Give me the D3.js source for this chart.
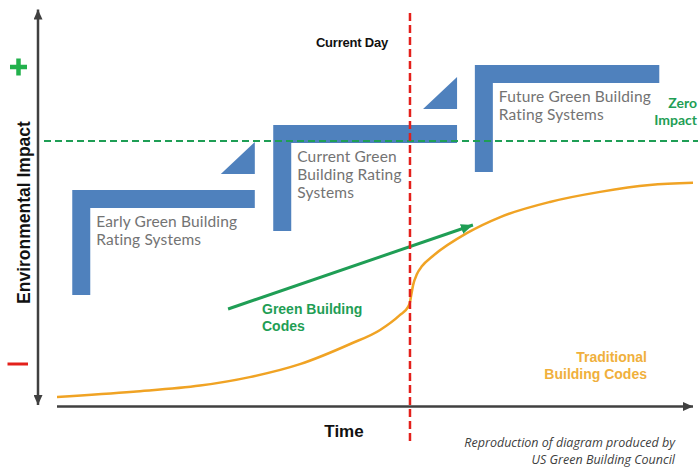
<!DOCTYPE html>
<html>
<head>
<meta charset="utf-8">
<script src="https://cdn.jsdelivr.net/npm/d3@7"></script>
<style>
  body { margin: 0; background: #fff; }
  svg { display: block; }
</style>
</head>
<body>
<div id="chart"></div>
<script>
// time runs 0..100 along the x axis, impact -100..50 (0 = zero impact)
const systemNames = [
    ['Early Green Building', 'Rating Systems'],
    ['Current Green', 'Building Rating', 'Systems'],
    ['Future Green Building', 'Rating Systems']
];
const systemStart = [2.4, 34.0, 65.7];
const systemEnd = [31.1, 62.9, 94.7];
const systemLevel = [-18.5, 6.0, 28.7];
const systemBase = [-58.1, -34.0, -11.7];

const tradTime = [0, 12, 22.5, 30.3, 38.2, 46.1, 50.8, 53.9, 55.2, 55.5, 55.7, 56.0, 56.6, 57.4, 59.1, 64.5, 69.7, 77.5, 85.4, 93.2, 100];
const tradImpact = [-96.6, -94.6, -92.3, -89.1, -84.2, -76.6, -71.3, -65.7, -62.6, -60.8, -58.1, -54.3, -50.2, -47.2, -43.4, -34.7, -28.7, -23.0, -19.2, -16.6, -15.8];

const greenCodeTime = [26.9, 65.4];
const greenCodeImpact = [-63.4, -31.7];

const currentDay = 55.5;
const zeroImpact = 0;

const width = 698, height = 470;
const blue = '#4f81bd', green = '#1f9e55', red = '#e3201b', orange = '#f0a324', axisColor = '#404040';

const x = d3.scaleLinear().domain([0, 100]).range([57, 693]);
const y = d3.scaleLinear().domain([-100, 50]).range([406, 8.5]);

const svg = d3.select('#chart').append('svg')
    .attr('width', width)
    .attr('height', height);

const defs = svg.append('defs');
function arrowMarker(id, color, w, h) {
    defs.append('marker')
        .attr('id', id)
        .attr('viewBox', `0 0 ${w} ${h}`)
        .attr('refX', w).attr('refY', h / 2)
        .attr('markerWidth', w).attr('markerHeight', h)
        .attr('markerUnits', 'userSpaceOnUse')
        .attr('orient', 'auto-start-reverse')
        .append('path')
        .attr('d', `M0,0 L${w},${h / 2} L0,${h} Z`)
        .attr('fill', color);
}
arrowMarker('axisArrow', axisColor, 10, 9);
arrowMarker('greenArrow', green, 12, 10);

// axes
const yAxisX = x(0) - 19;
svg.append('line')
    .attr('x1', yAxisX).attr('x2', yAxisX)
    .attr('y1', y(50) + 1).attr('y2', y(-100) - 1)
    .attr('stroke', axisColor).attr('stroke-width', 2.5)
    .attr('marker-start', 'url(#axisArrow)')
    .attr('marker-end', 'url(#axisArrow)');

svg.append('line')
    .attr('x1', x(0)).attr('x2', x(100))
    .attr('y1', y(-100) + 0.5).attr('y2', y(-100) + 0.5)
    .attr('stroke', axisColor).attr('stroke-width', 2.5)
    .attr('marker-end', 'url(#axisArrow)');

// + and - signs
svg.append('path')
    .attr('d', 'M10,67 H27 M18.5,58.5 V75.5')
    .attr('stroke', '#22b14c').attr('stroke-width', 4.5);
svg.append('path')
    .attr('d', 'M7.5,364 H28')
    .attr('stroke', red).attr('stroke-width', 3);

svg.append('text')
    .attr('transform', `translate(30,${y(-27)}) rotate(-90)`)
    .attr('text-anchor', 'middle')
    .style('font', 'bold 17.5px "Liberation Sans", Arial, sans-serif')
    .attr('fill', '#111')
    .text('Environmental Impact');

svg.append('text')
    .attr('x', 344).attr('y', 437)
    .attr('text-anchor', 'middle')
    .style('font', 'bold 17px "Liberation Sans", Arial, sans-serif')
    .attr('fill', '#111')
    .text('Time');

// rating system "steps"
const bar = 18;
const systems = systemNames.map((names, i) => ({
    names, start: systemStart[i], end: systemEnd[i], level: systemLevel[i], base: systemBase[i]
}));

svg.selectAll('.system')
    .data(systems)
    .enter().append('path')
    .attr('class', 'system')
    .attr('fill', blue)
    .attr('d', d => {
        const x0 = x(d.start), x1 = x(d.end), y0 = y(d.level), y1 = y(d.base);
        return `M${x0},${y0} H${x1} V${y0 + bar} H${x0 + bar} V${y1} H${x0} Z`;
    });

svg.selectAll('.step')
    .data(systems.slice(0, -1))
    .enter().append('path')
    .attr('class', 'step')
    .attr('fill', blue)
    .attr('d', d => {
        const r = x(d.end), b = y(d.level) - 16;
        return `M${r - 34},${b} L${r},${b - 32} L${r},${b} Z`;
    });

const labels = svg.selectAll('.sysLabel')
    .data(systems)
    .enter().append('text')
    .attr('class', 'sysLabel')
    .attr('fill', '#737373')
    .style('font', '15.5px Lato, "Open Sans", sans-serif')
    .style('letter-spacing', '0.15px');

labels.selectAll('tspan')
    .data(d => d.names.map((n, j) => ({ n, j, d })))
    .enter().append('tspan')
    .attr('x', t => x(t.d.start) + 24)
    .attr('y', t => y(t.d.level) + 37 + t.j * 18)
    .text(t => t.n);

// zero impact line
svg.append('line')
    .attr('x1', yAxisX + 6).attr('x2', width)
    .attr('y1', y(zeroImpact)).attr('y2', y(zeroImpact))
    .attr('stroke', green).attr('stroke-width', 2)
    .attr('stroke-dasharray', '7,4');

svg.append('text')
    .attr('text-anchor', 'end')
    .attr('fill', green)
    .style('font', 'bold 14px Lato, "Open Sans", sans-serif')
    .selectAll('tspan')
    .data(['Zero', 'Impact'])
    .enter().append('tspan')
    .attr('x', 697)
    .attr('y', (d, i) => 108 + i * 17)
    .text(d => d);

// traditional building codes curve
const line = d3.line()
    .x((d, i) => x(tradTime[i]))
    .y(d => y(d))
    .curve(d3.curveMonotoneX);

svg.append('path')
    .datum(tradImpact)
    .attr('d', line)
    .attr('fill', 'none')
    .attr('stroke', orange)
    .attr('stroke-width', 2.5);

svg.append('text')
    .attr('text-anchor', 'end')
    .attr('fill', '#f0b03c')
    .style('font', 'bold 14px "Liberation Sans", Arial, sans-serif')
    .selectAll('tspan')
    .data(['Traditional', 'Building Codes'])
    .enter().append('tspan')
    .attr('x', 647)
    .attr('y', (d, i) => 362 + i * 16.5)
    .text(d => d);

// green building codes arrow
svg.append('line')
    .attr('x1', x(greenCodeTime[0])).attr('y1', y(greenCodeImpact[0]))
    .attr('x2', x(greenCodeTime[1])).attr('y2', y(greenCodeImpact[1]))
    .attr('stroke', green).attr('stroke-width', 3)
    .attr('marker-end', 'url(#greenArrow)');

svg.append('text')
    .attr('fill', green)
    .style('font', 'bold 14px "Liberation Sans", Arial, sans-serif')
    .selectAll('tspan')
    .data(['Green Building', 'Codes'])
    .enter().append('tspan')
    .attr('x', 262)
    .attr('y', (d, i) => 314 + i * 17)
    .text(d => d);

// current day
svg.append('line')
    .attr('x1', x(currentDay)).attr('x2', x(currentDay))
    .attr('y1', 13).attr('y2', 445)
    .attr('stroke', red).attr('stroke-width', 2.5)
    .attr('stroke-dasharray', '8,4');

svg.append('text')
    .attr('x', 352).attr('y', 47)
    .attr('text-anchor', 'middle')
    .attr('fill', '#111')
    .style('font', 'bold 13px "Liberation Sans", Arial, sans-serif')
    .style('letter-spacing', '-0.2px')
    .text('Current Day');

// source note
svg.append('text')
    .attr('text-anchor', 'end')
    .attr('fill', '#404040')
    .style('font', 'italic 12.5px "Open Sans", sans-serif')
    .selectAll('tspan')
    .data(['Reproduction of diagram produced by', 'US Green Building Council'])
    .enter().append('tspan')
    .attr('x', 675)
    .attr('y', (d, i) => 446.5 + i * 17.5)
    .text(d => d);
</script>
</body>
</html>
